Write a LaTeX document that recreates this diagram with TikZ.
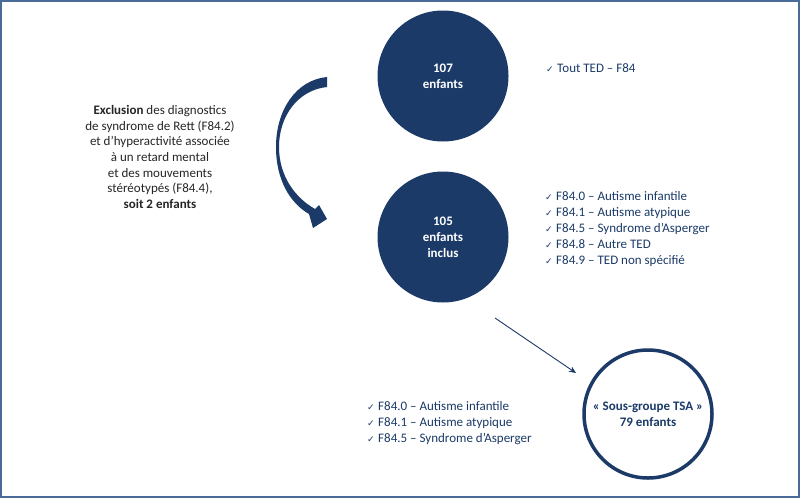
\documentclass[tikz,border=0pt]{standalone}
\usepackage{fontspec}
\setmainfont{Carlito}
\newfontfamily\symfont{DejaVu Sans}
\usetikzlibrary{positioning}
\usetikzlibrary{arrows.meta}
\usepackage{xcolor}
\definecolor{navy}{HTML}{1B3A68}
\definecolor{framecol}{HTML}{4A6A98}
\newcommand\chk{{\symfont\fontsize{9}{9}\selectfont ✓}\hspace{3.5pt}}

\begin{document}
\begin{tikzpicture}[x=1pt, y=-1pt,
    fullcircle/.style={circle, fill=navy, minimum size=131pt, inner sep=0pt, align=center, text=white, font=\bfseries\fontsize{13}{16}\selectfont},
    ringcircle/.style={circle, draw=navy, line width=3.5pt, minimum size=128pt, inner sep=0pt, align=center, text=navy, font=\bfseries\fontsize{13}{16}\selectfont},
    checklist/.style={anchor=west, align=left, inner sep=0pt, text=navy, font=\fontsize{13}{16}\selectfont}]
    \useasboundingbox (0, 0) rectangle (800, 498);
    \fill[white] (0, 0) rectangle (800, 498);
    \draw[framecol, line width=2pt] (1, 1) rectangle (799, 497);
    % circles
    \node[fullcircle] (all) at (443, 76) {107\\enfants};
    \node[fullcircle] (incl) at (443, 237) {105\\enfants\\inclus};
    \node[ringcircle] (tsa) at (648, 414) {« Sous-groupe TSA »\\79 enfants};
    % lists
    \node[checklist] (listall) at (546, 68) {\chk Tout TED – F84};
    \node[checklist] (listincl) at (545, 229) {\chk F84.0 – Autisme infantile\\ \chk F84.1 – Autisme atypique\\ \chk F84.5 – Syndrome d’Asperger\\ \chk F84.8 – Autre TED\\ \chk F84.9 – TED non spécifié};
    \node[checklist] (listtsa) at (367, 423) {\chk F84.0 – Autisme infantile\\ \chk F84.1 – Autisme atypique\\ \chk F84.5 – Syndrome d’Asperger};
    \node[align=center, inner sep=0pt, text=black!85, font=\fontsize{13}{15.7}\selectfont] (excl) at (160, 157) {\textbf{Exclusion} des diagnostics\\de syndrome de Rett (F84.2)\\et d’hyperactivité associée\\à un retard mental\\et des mouvements\\stéréotypés (F84.4),\\\textbf{soit 2 enfants}};
    % curved arrow
    \fill[navy] (327, 77) .. controls (296, 80) and (276, 110) .. (276, 147)
        .. controls (276, 180) and (290, 203) .. (309, 214)
        -- (313, 228) -- (327, 219) -- (319, 205) -- (315, 209)
        .. controls (294, 197) and (279, 175) .. (279, 147)
        .. controls (279, 116) and (298, 90) .. (327, 87) -- cycle;
    % thin arrow
    \coordinate (from) at (495, 318);
    \coordinate (to) at (576, 373);
    \draw[navy, line width=0.9pt, -{Stealth[length=7pt, width=6pt]}] (from) -- (to);
\end{tikzpicture}
\end{document}
